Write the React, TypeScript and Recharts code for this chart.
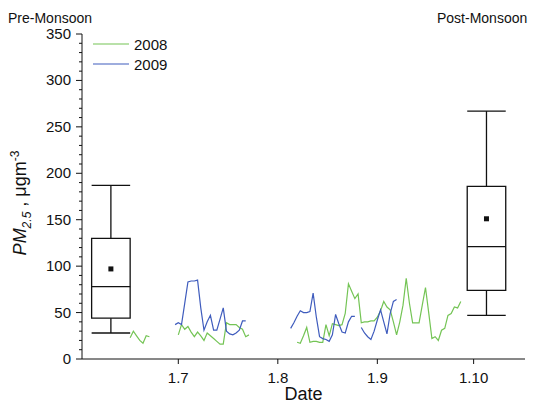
import React from 'react';
import {
  ComposedChart,
  Line,
  Scatter,
  XAxis,
  YAxis,
  ReferenceArea,
  ReferenceLine,
  Legend,
} from 'recharts';

// x is counted in days from 1 July
const MONTH_TICKS = [0, 31, 62, 92];
const MONTH_LABELS = ['1.7', '1.8', '1.9', '1.10'];
const Y_TICKS = [
  0, 10, 20, 30, 40, 50, 60, 70, 80, 90, 100, 110, 120, 130, 140, 150, 160, 170,
  180, 190, 200, 210, 220, 230, 240, 250, 260, 270, 280, 290, 300, 310, 320, 330,
  340, 350,
];

// 2008 daily PM2.5
const pm2008June = [23, 30, 25, 20, 17, 25, 24]; // from day -15
const pm2008July = [
  26, 37, 32, 35, 29, 24, 29, 25, 20, 28, 25, 22, 19, 16, 16, 39, 37, 37, 37, 34,
  32, 24, 26,
]; // from day 0
const pm2008AugSep = [
  18, 17, 25, 34, 18, 19, 19, 18, 18, 37, 25, 38, 37, 36, 37, 49, 81, 73, 65, 70,
  39, 40, 40, 41, 41, 45, 52, 62, 56, 53, 40, 26, 40, 58, 87, 60, 39, 39, 39, 58,
  77, 50, 22, 24, 20, 31, 33, 47, 49, 56, 55, 62,
]; // from day 37

// 2009 daily PM2.5
const pm2009July = [
  37, 39, 37, 60, 83, 84, 84, 85, 55, 31, 40, 47, 31, 31, 43, 55, 30, 27, 26, 28,
  31, 41, 41,
]; // from day -1
const pm2009Aug = [
  33, 39, 46, 52, 50, 50, 51, 71, 45, 24, 22, 21, 19, 26, 48, 38, 29, 28, 40, 46,
  46,
]; // from day 35
const pm2009Sep = [34, 28, 24, 21, 30, 42, 53, 40, 27, 49, 62, 64]; // from day 57

const SEGMENTS_2008: [number, number[]][] = [
  [-15, pm2008June],
  [0, pm2008July],
  [37, pm2008AugSep],
];
const SEGMENTS_2009: [number, number[]][] = [
  [-1, pm2009July],
  [35, pm2009Aug],
  [57, pm2009Sep],
];

// box plots: pre- and post-monsoon
const BOX_DAY = [-21, 96];
const BOX_LOW = [28, 47];
const BOX_Q1 = [44, 74];
const BOX_MEDIAN = [78, 121];
const BOX_Q3 = [130, 186];
const BOX_HIGH = [187, 267];
const BOX_MEAN = [97, 151];
const BOX_HALF = 6;

const FONT = '"Liberation Sans", Arial, sans-serif';
const GREEN = '#74c455';
const BLUE = '#3f5cbd';
const INK = '#111';

const buildRows = () => {
  const rows: Record<number, { day: number; y2008: number | null; y2009: number | null }> = {};
  for (let d = -15; d <= 88; d++) rows[d] = { day: d, y2008: null, y2009: null };
  SEGMENTS_2008.forEach(([start, vals]) =>
    vals.forEach((v, i) => (rows[start + i].y2008 = v))
  );
  SEGMENTS_2009.forEach(([start, vals]) =>
    vals.forEach((v, i) => (rows[start + i].y2009 = v))
  );
  return Object.values(rows).sort((a, b) => a.day - b.day);
};

const data = buildRows();
const meanData = BOX_DAY.map((day, i) => ({ day, mean: BOX_MEAN[i] }));

const YTick = ({ x, y, payload }: any) => {
  const major = payload.value % 50 === 0;
  return (
    <g>
      <line x1={x} x2={x - (major ? 6 : 3)} y1={y} y2={y} stroke={INK} />
      {major && (
        <text x={x - 11} y={y} dy={5} textAnchor="end" fontSize={15} fill={INK} fontFamily={FONT}>
          {payload.value}
        </text>
      )}
    </g>
  );
};

const YLabel = () => (
  <text
    transform="translate(26,203) rotate(-90)"
    textAnchor="middle"
    fontSize={18}
    fill={INK}
    fontFamily={FONT}
  >
    <tspan fontStyle="italic">PM</tspan>
    <tspan fontStyle="italic" fontSize={12} dy={5}>2.5</tspan>
    <tspan dy={-5}> , μgm</tspan>
    <tspan fontSize={12} dy={-7}>-3</tspan>
  </text>
);

const MeanMark = ({ cx, cy }: any) => (
  <rect x={cx - 2.5} y={cy - 2.5} width={5} height={5} fill={INK} />
);

const renderLegend = ({ payload }: any) => (
  <div style={{ fontFamily: FONT, fontSize: 15, color: INK }}>
    {(payload || [])
      .filter((e: any) => e.type !== 'none')
      .map((e: any) => (
        <div key={e.value} style={{ display: 'flex', alignItems: 'center', height: 20 }}>
          <svg width={36} height={4}>
            <line x1={0} x2={36} y1={2} y2={2} stroke={e.color} strokeWidth={1.2} />
          </svg>
          <span style={{ marginLeft: 5 }}>{e.value}</span>
        </div>
      ))}
  </div>
);

export default function App() {
  return (
    <div
      style={{
        position: 'absolute',
        left: 0,
        top: 0,
        width: 540,
        height: 404,
        background: '#fff',
        fontFamily: FONT,
      }}
    >
      <div style={{ position: 'absolute', left: 8, top: 10, fontSize: 14, lineHeight: '16px', color: INK }}>
        Pre-Monsoon
      </div>
      <div style={{ position: 'absolute', left: 437, top: 10, fontSize: 14, lineHeight: '16px', color: INK }}>
        Post-Monsoon
      </div>
      <ComposedChart
        width={540}
        height={404}
        data={data}
        margin={{ top: 34, right: 15, bottom: 15, left: 42 }}
      >
        <XAxis
          type="number"
          dataKey="day"
          domain={[-30, 108]}
          allowDataOverflow
          ticks={MONTH_TICKS}
          tickFormatter={(v: number) => MONTH_LABELS[MONTH_TICKS.indexOf(v)]}
          height={30}
          tickSize={5}
          tickMargin={8}
          stroke={INK}
          tick={{ fontSize: 15, fill: INK, fontFamily: FONT }}
          label={{ value: 'Date', position: 'bottom', offset: -2, fontSize: 18, fill: INK, fontFamily: FONT }}
        />
        <YAxis
          type="number"
          domain={[0, 350]}
          ticks={Y_TICKS}
          interval={0}
          width={40}
          tickSize={0}
          tickMargin={0}
          tickLine={false}
          stroke={INK}
          tick={<YTick />}
          label={<YLabel />}
        />
        <Legend
          layout="vertical"
          align="center"
          verticalAlign="middle"
          wrapperStyle={{ left: 93, top: 34, width: 'auto' }}
          content={renderLegend}
        />
        {BOX_DAY.map((day, i) => (
          <ReferenceArea
            key={`box-${i}`}
            x1={day - BOX_HALF}
            x2={day + BOX_HALF}
            y1={BOX_Q1[i]}
            y2={BOX_Q3[i]}
            fill="none"
            fillOpacity={0}
            stroke={INK}
            strokeWidth={1.3}
            strokeOpacity={1}
          />
        ))}
        {BOX_DAY.map((day, i) => (
          <ReferenceLine
            key={`med-${i}`}
            segment={[{ x: day - BOX_HALF, y: BOX_MEDIAN[i] }, { x: day + BOX_HALF, y: BOX_MEDIAN[i] }]}
            stroke={INK}
            strokeWidth={1.3}
          />
        ))}
        {BOX_DAY.map((day, i) => (
          <ReferenceLine
            key={`wh-hi-${i}`}
            segment={[{ x: day, y: BOX_Q3[i] }, { x: day, y: BOX_HIGH[i] }]}
            stroke={INK}
            strokeWidth={1.3}
          />
        ))}
        {BOX_DAY.map((day, i) => (
          <ReferenceLine
            key={`wh-lo-${i}`}
            segment={[{ x: day, y: BOX_Q1[i] }, { x: day, y: BOX_LOW[i] }]}
            stroke={INK}
            strokeWidth={1.3}
          />
        ))}
        {BOX_DAY.map((day, i) => (
          <ReferenceLine
            key={`cap-hi-${i}`}
            segment={[{ x: day - BOX_HALF, y: BOX_HIGH[i] }, { x: day + BOX_HALF, y: BOX_HIGH[i] }]}
            stroke={INK}
            strokeWidth={1.3}
          />
        ))}
        {BOX_DAY.map((day, i) => (
          <ReferenceLine
            key={`cap-lo-${i}`}
            segment={[{ x: day - BOX_HALF, y: BOX_LOW[i] }, { x: day + BOX_HALF, y: BOX_LOW[i] }]}
            stroke={INK}
            strokeWidth={1.3}
          />
        ))}
        <Line
          type="linear"
          dataKey="y2008"
          name="2008"
          stroke={GREEN}
          strokeWidth={1.2}
          dot={false}
          connectNulls={false}
          isAnimationActive={false}
        />
        <Line
          type="linear"
          dataKey="y2009"
          name="2009"
          stroke={BLUE}
          strokeWidth={1.2}
          dot={false}
          connectNulls={false}
          isAnimationActive={false}
        />
        <Scatter
          data={meanData}
          dataKey="mean"
          legendType="none"
          shape={<MeanMark />}
          isAnimationActive={false}
        />
      </ComposedChart>
    </div>
  );
}
